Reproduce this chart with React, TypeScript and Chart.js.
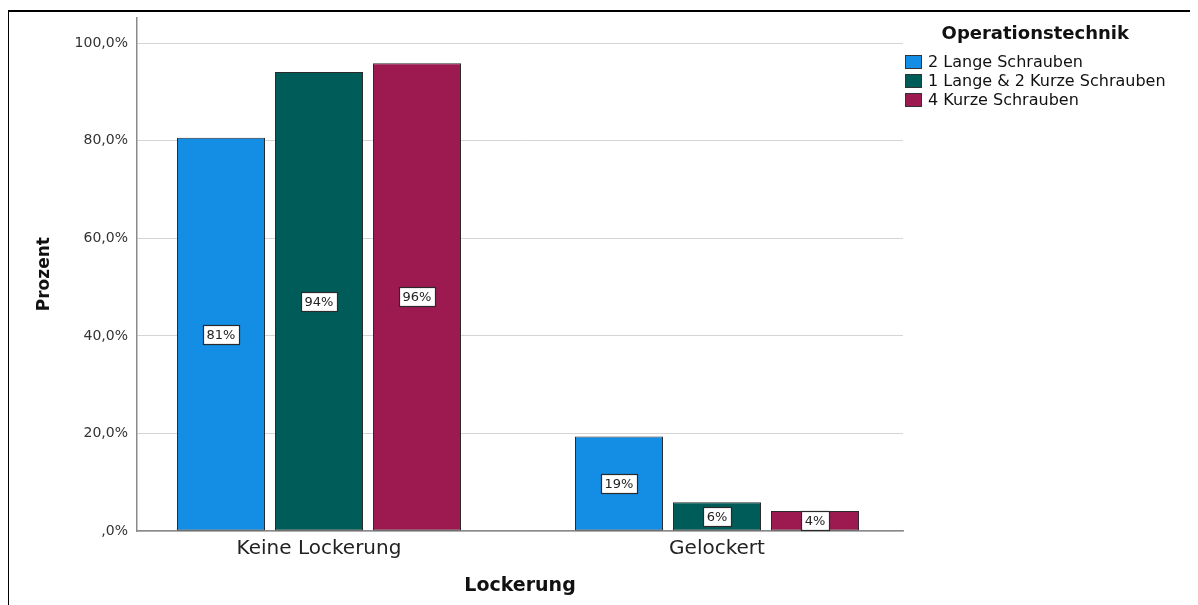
import React, { useEffect, useRef } from 'react';
import { Chart, registerables } from 'chart.js';

Chart.register(...registerables);

// ---- data ----
const categories = ['Keine Lockerung', 'Gelockert'];
const seriesNames = ['2 Lange Schrauben', '1 Lange & 2 Kurze Schrauben', '4 Kurze Schrauben'];
const langeSchrauben = [80.6, 19.4];
const langeKurzeSchrauben = [94.1, 5.9];
const kurzeSchrauben = [95.9, 4.1];
const seriesValues = [langeSchrauben, langeKurzeSchrauben, kurzeSchrauben];
const seriesColors = ['#148de5', '#005c58', '#9d1a50'];
const yTickStep = 20;

const FONT = '"DejaVu Sans", Verdana, sans-serif';

const fmtY = (v: number) => (v === 0 ? ',0%' : v.toFixed(1).replace('.', ',') + '%');

const barLabelPlugin = {
  id: 'barLabels',
  afterDatasetsDraw(chart: any) {
    const ctx = chart.ctx;
    ctx.save();
    ctx.font = `13px ${FONT}`;
    ctx.textAlign = 'center';
    ctx.textBaseline = 'middle';
    chart.data.datasets.forEach((ds: any, di: number) => {
      const meta = chart.getDatasetMeta(di);
      meta.data.forEach((el: any, i: number) => {
        const v = ds.data[i].y;
        const text = Math.round(v) + '%';
        const cx = el.x;
        const cy = (el.y + el.base) / 2;
        const w = Math.round(ctx.measureText(text).width + 7);
        const h = 19;
        const x0 = Math.round(cx - w / 2) + 0.5;
        const y0 = Math.round(cy - h / 2) + 0.5;
        ctx.fillStyle = '#ffffff';
        ctx.fillRect(x0, y0, w, h);
        ctx.strokeStyle = '#2a2a2a';
        ctx.lineWidth = 1.2;
        ctx.strokeRect(x0, y0, w, h);
        ctx.fillStyle = '#222222';
        ctx.fillText(text, cx, cy + 1);
      });
    });
    ctx.restore();
  },
};

function BarChart() {
  const canvasRef = useRef<HTMLCanvasElement | null>(null);

  useEffect(() => {
    if (!canvasRef.current) return;
    const chart = new Chart(canvasRef.current, {
      type: 'bar',
      data: {
        datasets: seriesNames.map((name, si) => ({
          label: name,
          data: seriesValues[si].map((v, i) => ({ x: i, y: v })),
          backgroundColor: seriesColors[si],
          borderColor: '#2b2b2b',
          borderWidth: 1,
          borderSkipped: false,
          categoryPercentage: 0.7387,
          barPercentage: 0.898,
        })),
      },
      options: {
        animation: false,
        responsive: true,
        maintainAspectRatio: false,
        layout: { padding: { left: 0, top: 0, right: 295, bottom: 0 } },
        plugins: {
          legend: { display: false },
          tooltip: { enabled: false },
        },
        scales: {
          x: {
            type: 'linear',
            min: -0.4573,
            max: 1.4673,
            offset: false,
            grid: { display: false, offset: false, drawTicks: false },
            border: { display: true, color: '#8a8a8a', width: 1.5 },
            ticks: {
              stepSize: 1,
              includeBounds: false,
              autoSkip: false,
              maxRotation: 0,
              padding: 6,
              color: '#222222',
              font: { family: FONT, size: 20 },
              callback: (v: any) => (categories[v as number] ?? ''),
            },
            title: {
              display: true,
              text: 'Lockerung',
              color: '#111111',
              font: { family: FONT, size: 19, weight: 'bold' },
              padding: { top: 0, bottom: 8 },
            },
            afterFit: (s: any) => {
              s.height = 74;
            },
          },
          y: {
            min: 0,
            max: 105.3,
            grid: { color: '#d4d4d4', lineWidth: 1, drawTicks: false },
            border: { display: true, color: '#8a8a8a', width: 1.5 },
            ticks: {
              stepSize: yTickStep,
              includeBounds: false,
              padding: 9,
              color: '#333333',
              font: { family: FONT, size: 14 },
              callback: (v: any) => fmtY(Number(v)),
            },
            title: {
              display: true,
              text: 'Prozent',
              color: '#111111',
              font: { family: FONT, size: 17, weight: 'bold' },
              padding: { top: 26, bottom: 0 },
            },
            afterFit: (s: any) => {
              s.width = 129;
            },
          },
        },
      } as any,
      plugins: [barLabelPlugin],
    });
    return () => chart.destroy();
  }, []);

  return <canvas ref={canvasRef} />;
}

export default function App() {
  return (
    <div style={{ position: 'relative', width: 1190, height: 597, overflow: 'hidden', background: '#fff' }}>
      <div
        style={{
          position: 'absolute',
          left: -1,
          top: 2,
          width: 1200,
          height: 600,
          borderLeft: '2px solid #000',
          borderTop: '2px solid #000',
          boxSizing: 'border-box',
        }}
      />
      <div style={{ position: 'absolute', left: 0, top: -8, width: 1190, height: 605 }}>
        <BarChart />
      </div>
      <div
        style={{
          position: 'absolute',
          left: 897,
          top: 14,
          display: 'inline-block',
          fontFamily: FONT,
          color: '#111',
        }}
      >
        <div style={{ fontWeight: 'bold', fontSize: 18, lineHeight: '22px', textAlign: 'center' }}>
          Operationstechnik
        </div>
        <div style={{ marginTop: 8 }}>
          {seriesNames.map((n, i) => (
            <div
              key={n}
              style={{ display: 'flex', alignItems: 'center', height: 19, fontSize: 16, whiteSpace: 'nowrap' }}
            >
              <span
                style={{
                  display: 'inline-block',
                  width: 15,
                  height: 12,
                  background: seriesColors[i],
                  border: '1px solid #333',
                  marginRight: 6,
                }}
              />
              {n}
            </div>
          ))}
        </div>
      </div>
    </div>
  );
}
